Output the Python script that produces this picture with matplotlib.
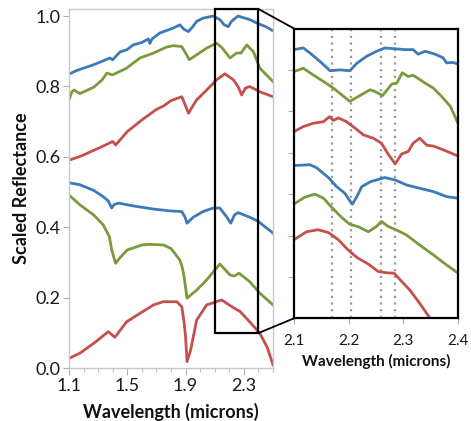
import matplotlib
matplotlib.use("Agg")
import matplotlib.pyplot as plt
from matplotlib.patches import Rectangle, ConnectionPatch

plt.rcParams['font.family'] = ['Lato', 'DejaVu Sans']

BLUE = '#3c7ab8'
GREEN = '#7b9a3c'
RED = '#c4504c'

# ---------------- main panel data ----------------
blue_top_x = [1.10, 1.15, 1.20, 1.27, 1.33, 1.38, 1.40, 1.42, 1.45, 1.50, 1.54, 1.60, 1.644, 1.655, 1.67,
              1.724, 1.79, 1.816, 1.86, 1.89, 1.92, 1.95, 1.976, 2.02, 2.09, 2.135, 2.165, 2.193, 2.215,
              2.26, 2.30, 2.34, 2.40, 2.45, 2.50]
blue_top_y = [0.835, 0.845, 0.852, 0.862, 0.872, 0.881, 0.876, 0.885, 0.898, 0.905, 0.918, 0.925, 0.935, 0.922,
              0.935, 0.952, 0.962, 0.966, 0.975, 0.962, 0.956, 0.970, 0.985, 0.994, 1.000, 0.990, 0.975,
              0.970, 0.985, 1.000, 0.995, 0.990, 0.978, 0.970, 0.958]

green_top_x = [1.10, 1.12, 1.135, 1.175, 1.27, 1.33, 1.36, 1.40, 1.45, 1.495, 1.587, 1.68, 1.77, 1.816,
               1.874, 1.90, 1.925, 1.976, 2.045, 2.113, 2.15, 2.205, 2.25, 2.28, 2.32, 2.365, 2.41, 2.45, 2.50]
green_top_y = [0.762, 0.785, 0.790, 0.780, 0.798, 0.820, 0.838, 0.833, 0.843, 0.852, 0.881, 0.895, 0.912, 0.916,
               0.913, 0.895, 0.876, 0.890, 0.909, 0.923, 0.910, 0.881, 0.895, 0.895, 0.918, 0.899, 0.852,
               0.835, 0.814]

red_top_x = [1.10, 1.18, 1.25, 1.33, 1.40, 1.42, 1.45, 1.50, 1.60, 1.70, 1.75, 1.80, 1.874, 1.90, 1.92,
             1.95, 1.976, 2.045, 2.113, 2.17, 2.228, 2.26, 2.285, 2.31, 2.34, 2.41, 2.50]
red_top_y = [0.591, 0.602, 0.615, 0.630, 0.644, 0.634, 0.648, 0.672, 0.705, 0.735, 0.745, 0.760, 0.771, 0.745,
             0.724, 0.745, 0.762, 0.790, 0.819, 0.836, 0.819, 0.800, 0.776, 0.795, 0.800, 0.785, 0.771]

blue_low_x = [1.10, 1.175, 1.27, 1.335, 1.37, 1.393, 1.41, 1.44, 1.54, 1.68, 1.79, 1.874, 1.895, 1.91,
              1.953, 2.02, 2.09, 2.135, 2.18, 2.21, 2.235, 2.26, 2.34, 2.40, 2.45, 2.50]
blue_low_y = [0.527, 0.521, 0.505, 0.487, 0.475, 0.455, 0.465, 0.469, 0.461, 0.452, 0.447, 0.445, 0.430, 0.412,
              0.429, 0.445, 0.455, 0.455, 0.431, 0.412, 0.435, 0.442, 0.429, 0.417, 0.400, 0.384]

green_low_x = [1.10, 1.175, 1.27, 1.335, 1.377, 1.393, 1.42, 1.45, 1.50, 1.60, 1.65, 1.75, 1.80, 1.86,
               1.875, 1.89, 1.91, 1.976, 2.045, 2.135, 2.205, 2.235, 2.267, 2.34, 2.41, 2.50]
green_low_y = [0.492, 0.464, 0.435, 0.407, 0.374, 0.336, 0.298, 0.314, 0.336, 0.350, 0.352, 0.350, 0.340, 0.308,
               0.290, 0.260, 0.199, 0.222, 0.251, 0.296, 0.265, 0.262, 0.270, 0.246, 0.213, 0.180]

red_low_x = [1.10, 1.175, 1.27, 1.37, 1.415, 1.495, 1.587, 1.68, 1.747, 1.84, 1.874, 1.89, 1.90, 1.91,
             1.935, 1.976, 2.045, 2.148, 2.217, 2.275, 2.34, 2.41, 2.46, 2.50]
red_low_y = [0.028, 0.043, 0.071, 0.104, 0.088, 0.132, 0.156, 0.180, 0.189, 0.189, 0.175, 0.130, 0.090, 0.019,
             0.052, 0.137, 0.180, 0.194, 0.175, 0.161, 0.132, 0.099, 0.060, 0.010]

# ---------------- inset (zoomed 2.1-2.4 µm) data ----------------
in_blue1_x = [2.100, 2.117, 2.129, 2.148, 2.166, 2.184, 2.202, 2.215, 2.233, 2.251, 2.266, 2.285, 2.303,
              2.318, 2.327, 2.340, 2.358, 2.373, 2.379, 2.391, 2.400]
in_blue1_y = [0.649, 0.653, 0.641, 0.620, 0.598, 0.600, 0.598, 0.616, 0.633, 0.645, 0.653, 0.651, 0.649,
              0.649, 0.638, 0.645, 0.638, 0.629, 0.617, 0.618, 0.614]

in_green1_x = [2.100, 2.117, 2.135, 2.154, 2.172, 2.187, 2.202, 2.218, 2.239, 2.248, 2.262, 2.279, 2.288,
               2.298, 2.309, 2.318, 2.340, 2.355, 2.370, 2.386, 2.400]
in_green1_y = [0.596, 0.604, 0.588, 0.572, 0.556, 0.540, 0.524, 0.536, 0.552, 0.548, 0.538, 0.566, 0.568,
               0.593, 0.584, 0.587, 0.568, 0.556, 0.536, 0.512, 0.471]

in_red1_x = [2.100, 2.117, 2.135, 2.154, 2.165, 2.172, 2.181, 2.196, 2.212, 2.227, 2.245, 2.260, 2.272,
             2.285, 2.297, 2.309, 2.318, 2.330, 2.343, 2.355, 2.373, 2.400]
in_red1_y = [0.451, 0.463, 0.471, 0.475, 0.487, 0.478, 0.484, 0.475, 0.459, 0.443, 0.435, 0.423, 0.397,
             0.373, 0.397, 0.403, 0.423, 0.435, 0.418, 0.416, 0.407, 0.392]

in_blue2_x = [2.100, 2.129, 2.141, 2.163, 2.178, 2.193, 2.202, 2.207, 2.215, 2.224, 2.240, 2.258, 2.266,
              2.285, 2.306, 2.330, 2.355, 2.379, 2.400]
in_blue2_y = [0.369, 0.371, 0.364, 0.340, 0.318, 0.302, 0.284, 0.276, 0.294, 0.318, 0.330, 0.337, 0.340,
              0.334, 0.322, 0.314, 0.306, 0.294, 0.290]

in_green2_x = [2.100, 2.119, 2.138, 2.154, 2.169, 2.187, 2.202, 2.218, 2.236, 2.251, 2.260, 2.272, 2.288,
               2.306, 2.330, 2.355, 2.379, 2.400]
in_green2_y = [0.276, 0.292, 0.300, 0.290, 0.268, 0.244, 0.227, 0.221, 0.209, 0.222, 0.234, 0.222, 0.213,
               0.201, 0.177, 0.153, 0.129, 0.109]

in_red2_x = [2.100, 2.123, 2.144, 2.163, 2.181, 2.199, 2.215, 2.236, 2.254, 2.269, 2.283, 2.297, 2.312,
             2.330, 2.349, 2.360]
in_red2_y = [0.190, 0.209, 0.214, 0.207, 0.190, 0.165, 0.147, 0.131, 0.113, 0.110, 0.109, 0.089, 0.068,
             0.036, 0.000, -0.020]

feature_lines = [2.170, 2.205, 2.260, 2.285]

main_xticks = [1.1, 1.5, 1.9, 2.3]
main_yticks = [0.0, 0.2, 0.4, 0.6, 0.8, 1.0]
inset_xticks = [2.1, 2.2, 2.3, 2.4]
inset_yticks = [0.1, 0.2, 0.3, 0.4, 0.5, 0.6]
zoom_x = [2.1, 2.4]
zoom_y = [0.1, 1.02]

# ---------------- figure ----------------
W, H = 471, 421
fig = plt.figure(figsize=(W / 100, H / 100), dpi=100)

def fr(x0, y0, x1, y1):
    return [x0 / W, 1 - y1 / H, (x1 - x0) / W, (y1 - y0) / H]

ax = fig.add_axes(fr(69, 9, 273, 368.3))
ins = fig.add_axes(fr(294, 28.5, 458, 318.3))

LW = 2.0
for xs, ys, c in [(blue_top_x, blue_top_y, BLUE), (green_top_x, green_top_y, GREEN),
                  (red_top_x, red_top_y, RED), (blue_low_x, blue_low_y, BLUE),
                  (green_low_x, green_low_y, GREEN), (red_low_x, red_low_y, RED)]:
    ax.plot(xs, ys, color=c, lw=LW, solid_joinstyle='round')

ax.set_xlim(1.1, 2.5)
ax.set_ylim(0.0, 1.02)
ax.set_xticks(main_xticks)
ax.set_xticks([round(1.1 + 0.1 * i, 1) for i in range(15)], minor=True)
ax.set_yticks(main_yticks)
ax.set_yticklabels([f"{v:.1f}" for v in main_yticks])
ax.set_xticklabels([f"{v:.1f}" for v in main_xticks])
for s in ax.spines.values():
    s.set_color('#c8c8c8')
    s.set_linewidth(1.0)
ax.tick_params(axis='both', which='both', color='#b0b0b0', labelcolor='#1a1a1a', labelsize=13)
ax.tick_params(axis='x', which='major', length=5, pad=2)
ax.tick_params(axis='x', which='minor', length=3)
ax.tick_params(axis='y', which='major', length=4, pad=2)

ax.set_xlabel('Wavelength (microns)', fontsize=13, fontweight='bold', color='#111111')
ax.xaxis.set_label_coords(0.5, (368.3 - 412) / 359.3)
ax.xaxis.label.set_va('center')
ax.set_ylabel('Scaled Reflectance', fontsize=13, fontweight='bold', color='#111111')
ax.yaxis.set_label_coords((22 - 69) / 204, 0.5)
ax.yaxis.label.set_va('center')

rect = Rectangle((zoom_x[0], zoom_y[0]), zoom_x[1] - zoom_x[0], zoom_y[1] - zoom_y[0],
                 fill=False, ec='black', lw=1.6, clip_on=False, zorder=5)
ax.add_patch(rect)

# inset
for xs, ys, c in [(in_blue1_x, in_blue1_y, BLUE), (in_green1_x, in_green1_y, GREEN),
                  (in_red1_x, in_red1_y, RED), (in_blue2_x, in_blue2_y, BLUE),
                  (in_green2_x, in_green2_y, GREEN), (in_red2_x, in_red2_y, RED)]:
    ins.plot(xs, ys, color=c, lw=LW, solid_joinstyle='round')
for fx in feature_lines:
    ins.axvline(fx, color='#9a9a9a', lw=1.6, ls=(0, (1, 2)), zorder=0)

ins.set_xlim(2.1, 2.4)
ins.set_ylim(0.0, 0.7)
ins.set_xticks(inset_xticks)
ins.set_xticklabels([f"{v:.1f}" for v in inset_xticks])
ins.set_yticks(inset_yticks)
ins.set_yticklabels([])
for s in ins.spines.values():
    s.set_color('black')
    s.set_linewidth(1.6)
ins.tick_params(axis='both', color='#b0b0b0', labelcolor='#1a1a1a', labelsize=11, length=4)
ins.tick_params(axis='x', pad=7)
ins.set_xlabel('Wavelength (microns)', fontsize=11, fontweight='bold', color='#111111')
ins.xaxis.set_label_coords(0.5, (318.3 - 361) / 289.8)
ins.xaxis.label.set_va('center')

for (xa, ya), (xb, yb) in [((zoom_x[1], zoom_y[1]), (0, 1)), ((zoom_x[1], zoom_y[0]), (0, 0))]:
    con = ConnectionPatch(xyA=(xa, ya), coordsA=ax.transData, xyB=(xb, yb), coordsB=ins.transAxes,
                          color='black', lw=1.3)
    fig.add_artist(con)

fig.savefig('out.png', dpi=100)
